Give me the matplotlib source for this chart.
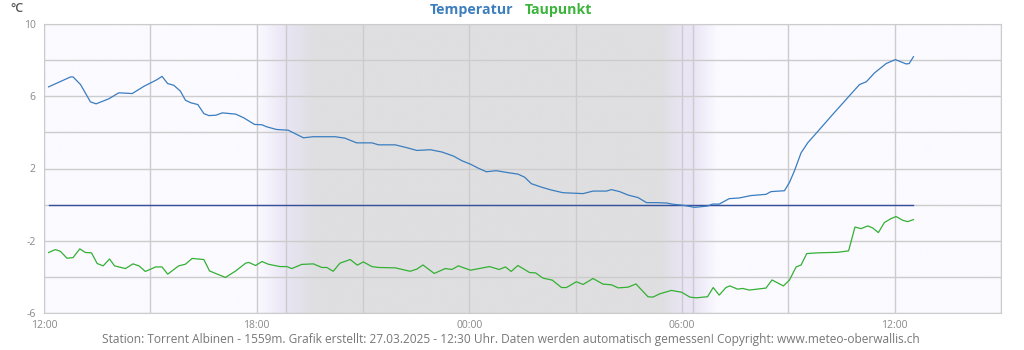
import numpy as np
import matplotlib.pyplot as plt
from matplotlib.colors import to_rgb

plt.rcParams['font.family'] = ['Open Sans', 'DejaVu Sans']

# --- data (hours after 12:00 on 26.03., degrees C) ---
temp_h = [0.13, 0.75, 0.82, 1.03, 1.31, 1.47, 1.83, 2.11, 2.49, 2.82, 3.19, 3.33, 3.49,
          3.66, 3.85, 3.99, 4.14, 4.34, 4.51, 4.65, 4.85, 5.03, 5.41, 5.64, 5.94, 6.15,
          6.28, 6.56, 6.89, 7.32, 7.60, 8.21, 8.49, 8.82, 9.25, 9.44, 9.91, 10.24, 10.52,
          10.90, 11.23, 11.55, 11.79, 12.03, 12.25, 12.48, 12.76, 13.09, 13.37, 13.56,
          13.75, 14.03, 14.31, 14.64, 15.21, 15.49, 15.87, 16.01, 16.24, 16.48, 16.76,
          17.00, 17.28, 17.56, 17.75, 18.05, 18.35, 18.72, 18.86, 19.05, 19.33, 19.62,
          19.94, 20.37, 20.51, 20.89, 21.03, 21.17, 21.36, 21.55, 21.88, 22.25, 22.63,
          22.77, 23.01, 23.20, 23.43, 23.76, 24.02, 24.32, 24.41, 24.53]
temp_c = [6.52, 7.07, 7.07, 6.65, 5.69, 5.58, 5.86, 6.19, 6.15, 6.55, 6.92, 7.10, 6.70,
          6.61, 6.28, 5.78, 5.64, 5.54, 5.04, 4.93, 4.95, 5.08, 5.01, 4.80, 4.44, 4.42,
          4.31, 4.16, 4.12, 3.70, 3.76, 3.76, 3.68, 3.42, 3.42, 3.31, 3.31, 3.15, 3.00,
          3.04, 2.91, 2.69, 2.43, 2.24, 2.02, 1.82, 1.88, 1.77, 1.69, 1.52,
          1.16, 0.97, 0.81, 0.66, 0.61, 0.75, 0.75, 0.83, 0.72, 0.53, 0.39,
          0.11, 0.11, 0.09, 0.02, -0.04, -0.15, -0.08, 0.03, 0.03, 0.33, 0.37,
          0.50, 0.57, 0.72, 0.77, 1.22, 1.86, 2.87, 3.43, 4.16, 4.99, 5.82,
          6.13, 6.65, 6.80, 7.29, 7.81, 8.03, 7.79, 7.81, 8.19]

dew_h = [0.13, 0.32, 0.46, 0.65, 0.82, 1.01, 1.17, 1.34, 1.50, 1.67, 1.85, 1.99, 2.30,
         2.51, 2.68, 2.86, 3.15, 3.33, 3.49, 3.80, 3.99, 4.18, 4.51, 4.67, 4.89, 5.12,
         5.41, 5.69, 5.78, 5.97, 6.15, 6.33, 6.66, 6.85, 6.99, 7.27, 7.60, 7.84, 7.98,
         8.16, 8.35, 8.64, 8.84, 9.01, 9.25, 9.44, 9.91, 10.33, 10.52, 10.69, 11.01,
         11.32, 11.51, 11.69, 12.03, 12.25, 12.57, 12.84, 13.02, 13.18, 13.37, 13.70,
         13.87, 14.08, 14.34, 14.60, 14.74, 15.02, 15.21, 15.49, 15.77, 16.01, 16.20,
         16.48, 16.70, 17.04, 17.18, 17.37, 17.70, 17.99, 18.22, 18.40, 18.72, 18.88,
         19.05, 19.24, 19.35, 19.57, 19.71, 19.90, 20.37, 20.54, 20.86, 21.03, 21.22,
         21.36, 21.52, 21.83, 22.39, 22.70, 22.88, 23.05, 23.24, 23.38, 23.54, 23.71,
         23.90, 24.04, 24.23, 24.37, 24.53]
dew_c = [-2.65, -2.49, -2.58, -2.97, -2.93, -2.45, -2.65, -2.67, -3.26, -3.39, -3.01, -3.39, -3.54,
         -3.28, -3.39, -3.70, -3.45, -3.45, -3.85, -3.39, -3.30, -2.98, -3.04, -3.67, -3.85, -4.03,
         -3.67, -3.24, -3.20, -3.37, -3.15, -3.30, -3.43, -3.43, -3.54, -3.31, -3.28, -3.48, -3.48,
         -3.69, -3.24, -3.04, -3.35, -3.17, -3.43, -3.48, -3.50, -3.69, -3.57, -3.34, -3.81,
         -3.54, -3.59, -3.39, -3.63, -3.55, -3.43, -3.59, -3.45, -3.70, -3.37, -3.76,
         -3.78, -4.07, -4.18, -4.59, -4.59, -4.27, -4.42, -4.09, -4.40, -4.44, -4.61,
         -4.57, -4.39, -5.10, -5.12, -4.94, -4.75, -4.85, -5.12, -5.16, -5.10, -4.59,
         -5.01, -4.59, -4.50, -4.68, -4.64, -4.73, -4.62, -4.17, -4.50, -4.18, -3.45,
         -3.34, -2.71, -2.67, -2.64, -2.56, -1.24, -1.33, -1.18, -1.29, -1.55, -0.99,
         -0.77, -0.66, -0.87, -0.94, -0.83]

sunset_h, sunrise_h = 6.83, 18.32
hour_ticks = [0, 6, 12, 18, 24]
hour_labels = ['12:00', '18:00', '00:00', '06:00', '12:00']

# --- figure ---
fig = plt.figure(figsize=(10.24, 3.5), dpi=100)
ax = fig.add_axes([44 / 1024, 1 - 313 / 350, 957 / 1024, 289 / 350])
ax.set_xlim(0, 27)
ax.set_ylim(-6, 10)

# night shading with twilight gradients
bg, lav, grey = to_rgb('#fbfaff'), to_rgb('#e9e5f5'), to_rgb('#dfdfe1')
stops_h = [0, 6.0, sunset_h, 7.6, 17.45, 18.0, sunrise_h, 19.0, 27]
stops_c = [bg, bg, lav, grey, grey, lav, lav, bg, bg]
xs = np.linspace(0, 27, 2000)
img = np.stack([np.interp(xs, stops_h, [c[i] for c in stops_c]) for i in range(3)], axis=-1)
ax.imshow(img[np.newaxis, :, :], extent=[0, 27, -6, 10], aspect='auto', zorder=0,
          interpolation='bilinear')

ax.set_xticks(np.arange(0, 28, 3))
ax.set_yticks(np.arange(-6, 11, 2))
ax.grid(True, color='#cccccc', linewidth=1, zorder=1)
for h in (sunset_h, sunrise_h):
    ax.axvline(h, color='#cccccc', linewidth=1, zorder=1)
ax.set_xticklabels([hour_labels[hour_ticks.index(t)] if t in hour_ticks else ''
                    for t in np.arange(0, 28, 3)])
ax.set_yticklabels([str(v) if v % 4 == 2 else '' for v in np.arange(-6, 11, 2)])
ax.tick_params(length=0, labelsize=7.5, labelcolor='#888888', pad=6)
ax.tick_params(axis='x', pad=5)
for s in ax.spines.values():
    s.set_color('#cccccc')

ax.plot([temp_h[0], temp_h[-1]], [0, 0], color='#34509e', linewidth=1, zorder=3)
ax.plot(temp_h, temp_c, color='#3a7dbf', linewidth=0.9, zorder=4)
ax.plot(dew_h, dew_c, color='#34b034', linewidth=0.9, zorder=4)

fig.text(10 / 1024, 1 - 8 / 350, '°C', fontsize=9, fontweight='semibold', color='#555555',
         va='center', ha='left')
fig.text(513 / 1024, 1 - 10 / 350, 'Temperatur', fontsize=10.2, fontweight='bold',
         color='#3d7ebf', ha='right', va='center')
fig.text(525 / 1024, 1 - 10 / 350, 'Taupunkt', fontsize=10.2, fontweight='bold',
         color='#3cb43c', ha='left', va='center')
fig.text(511 / 1024, 1 - 340 / 350,
         'Station: Torrent Albinen - 1559m. Grafik erstellt: 27.03.2025 - 12:30 Uhr. '
         'Daten werden automatisch gemessen! Copyright: www.meteo-oberwallis.ch',
         fontsize=8.58, color='#777777', ha='center', va='center')

fig.savefig('out.png', dpi=100)
